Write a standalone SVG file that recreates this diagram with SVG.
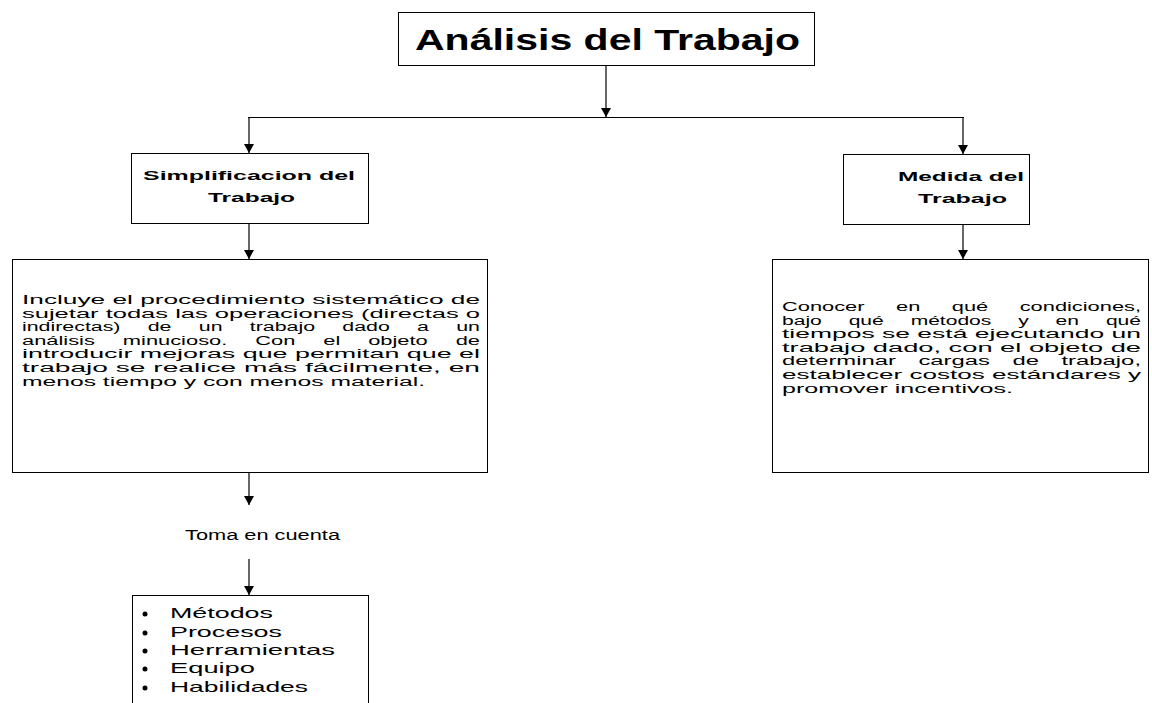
<svg xmlns="http://www.w3.org/2000/svg" width="1152" height="703" viewBox="0 0 1152 703">
<defs>
<marker id="arr" markerUnits="userSpaceOnUse" markerWidth="10" markerHeight="9" refX="5" refY="9" orient="0">
<path d="M0,0 L10,0 L5,9 z" fill="#000"/>
</marker>
<style>
.box{fill:#fff;stroke:#000;stroke-width:1}
.ln{stroke:#000;stroke-width:1.2;fill:none}
.t{font-family:"Liberation Sans",Arial,sans-serif;fill:#000}
.title{font-size:30px;font-weight:bold}
.hd{font-size:13px;font-weight:bold}
.body{font-size:12px}
.list{font-size:15px}
</style>
</defs>
<rect width="1152" height="703" fill="#fff"/>
<g id="connectors">
<line class="ln" x1="606" y1="65" x2="606" y2="117" marker-end="url(#arr)"/>
<line class="ln" x1="248" y1="117.5" x2="964" y2="117.5"/>
<line class="ln" x1="249" y1="117" x2="249" y2="153" marker-end="url(#arr)"/>
<line class="ln" x1="963" y1="117" x2="963" y2="154" marker-end="url(#arr)"/>
<line class="ln" x1="249" y1="223" x2="249" y2="259" marker-end="url(#arr)"/>
<line class="ln" x1="963" y1="224" x2="963" y2="259" marker-end="url(#arr)"/>
<line class="ln" x1="249" y1="472" x2="249" y2="505" marker-end="url(#arr)"/>
<line class="ln" x1="249" y1="559" x2="249" y2="595" marker-end="url(#arr)"/>
</g>
<g id="n-analisis">
<rect class="box" x="398.5" y="12.5" width="416" height="53"/>
<text class="t title" x="415" y="50" textLength="385" lengthAdjust="spacingAndGlyphs">Análisis del Trabajo</text>
</g>
<g id="n-simplificacion">
<rect class="box" x="131.5" y="153.5" width="237" height="70"/>
<text class="t hd" x="143" y="180" textLength="212" lengthAdjust="spacingAndGlyphs">Simplificacion del</text>
<text class="t hd" x="208" y="202" textLength="87" lengthAdjust="spacingAndGlyphs">Trabajo</text>
</g>
<g id="n-medida">
<rect class="box" x="843.5" y="154.5" width="186" height="70"/>
<text class="t hd" x="898" y="181" textLength="126" lengthAdjust="spacingAndGlyphs">Medida del</text>
<text class="t hd" x="918" y="203" textLength="89" lengthAdjust="spacingAndGlyphs">Trabajo</text>
</g>
<g id="n-simp-desc">
<rect class="box" x="12.5" y="259.5" width="475" height="213"/>
<text class="t body" x="22" y="304" textLength="458" lengthAdjust="spacingAndGlyphs">Incluye el procedimiento sistemático de</text>
<text class="t body" x="22" y="318" textLength="458" lengthAdjust="spacingAndGlyphs">sujetar todas las operaciones (directas o</text>
<text class="t body" x="22" y="331" textLength="458" lengthAdjust="spacingAndGlyphs" word-spacing="12">indirectas) de un trabajo dado a un</text>
<text class="t body" x="22" y="345" textLength="458" lengthAdjust="spacingAndGlyphs" word-spacing="12">análisis minucioso. Con el objeto de</text>
<text class="t body" x="22" y="358" textLength="458" lengthAdjust="spacingAndGlyphs">introducir mejoras que permitan que el</text>
<text class="t body" x="22" y="372" textLength="458" lengthAdjust="spacingAndGlyphs">trabajo se realice más fácilmente, en</text>
<text class="t body" x="22" y="386" textLength="403" lengthAdjust="spacingAndGlyphs">menos tiempo y con menos material.</text>
</g>
<g id="n-medida-desc">
<rect class="box" x="772.5" y="259.5" width="376" height="213"/>
<text class="t body" x="782" y="311" textLength="359" lengthAdjust="spacingAndGlyphs" word-spacing="14">Conocer en qué condiciones,</text>
<text class="t body" x="782" y="325" textLength="359" lengthAdjust="spacingAndGlyphs" word-spacing="12">bajo qué métodos y en qué</text>
<text class="t body" x="782" y="338" textLength="359" lengthAdjust="spacingAndGlyphs">tiempos se está ejecutando un</text>
<text class="t body" x="782" y="352" textLength="359" lengthAdjust="spacingAndGlyphs">trabajo dado, con el objeto de</text>
<text class="t body" x="782" y="365" textLength="359" lengthAdjust="spacingAndGlyphs" word-spacing="8">determinar cargas de trabajo,</text>
<text class="t body" x="782" y="379" textLength="359" lengthAdjust="spacingAndGlyphs">establecer costos estándares y</text>
<text class="t body" x="782" y="393" textLength="231" lengthAdjust="spacingAndGlyphs">promover incentivos.</text>
</g>
<g id="n-toma">
<text class="t" x="185" y="540" textLength="155" lengthAdjust="spacingAndGlyphs" style="font-size:14px">Toma en cuenta</text>
</g>
<g id="n-lista">
<rect class="box" x="132.5" y="595.5" width="236" height="120"/>
<g fill="#000">
<circle cx="145" cy="614" r="2.5"/>
<circle cx="145" cy="633" r="2.5"/>
<circle cx="145" cy="651" r="2.5"/>
<circle cx="145" cy="669" r="2.5"/>
<circle cx="145" cy="688" r="2.5"/>
</g>
<text class="t list" x="170" y="618" textLength="103" lengthAdjust="spacingAndGlyphs">Métodos</text>
<text class="t list" x="170" y="637" textLength="112" lengthAdjust="spacingAndGlyphs">Procesos</text>
<text class="t list" x="170" y="655" textLength="165" lengthAdjust="spacingAndGlyphs">Herramientas</text>
<text class="t list" x="170" y="673" textLength="85" lengthAdjust="spacingAndGlyphs">Equipo</text>
<text class="t list" x="170" y="692" textLength="138" lengthAdjust="spacingAndGlyphs">Habilidades</text>
</g>
</svg>
